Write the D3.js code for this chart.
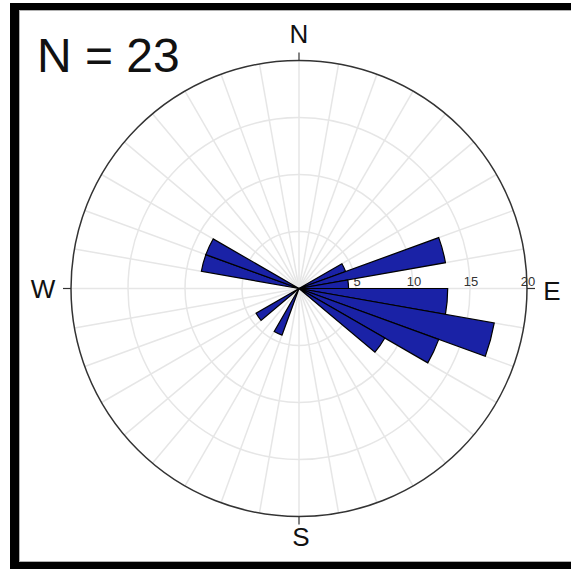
<!DOCTYPE html>
<html>
<head>
<meta charset="utf-8">
<script src="https://cdn.jsdelivr.net/npm/d3@7"></script>
<style>
  html, body { margin: 0; padding: 0; background: #fff; }
  svg { display: block; }
  text { font-family: "Liberation Sans", Arial, sans-serif; }
</style>
</head>
<body>
<svg id="chart" width="571" height="569"></svg>
<script>
// ---- data ----
const totalN = 23;
const binStarts = [60, 70, 80, 90, 100, 110, 120, 200, 230, 280, 290]; // degrees, compass
const binCounts = [1, 3, 1, 3, 4, 3, 2, 1, 1, 2, 2];
const binWidth = 10;
const ringTicks = [5, 10, 15, 20];
const directions = ["N", "E", "S", "W"];
const directionAngles = [0, 90, 180, 270];

// ---- layout ----
const svg = d3.select("#chart");
const cx = 299, cy = 288.5, R = 228;
const rScale = d3.scaleLinear().domain([0, 20]).range([0, R]);
const toRad = d => d * Math.PI / 180;

// frame
svg.append("rect").attr("x", 10).attr("y", 3).attr("width", 561).attr("height", 7).attr("fill", "#000");
svg.append("rect").attr("x", 10).attr("y", 3).attr("width", 9).attr("height", 566).attr("fill", "#000");
svg.append("rect").attr("x", 10).attr("y", 562).attr("width", 561).attr("height", 7).attr("fill", "#000");
svg.append("line").attr("x1", 19.5).attr("x2", 19.5).attr("y1", 10).attr("y2", 562).attr("stroke", "#b0b0b0").attr("stroke-width", 1);
svg.append("line").attr("x1", 19).attr("x2", 571).attr("y1", 10.5).attr("y2", 10.5).attr("stroke", "#b0b0b0").attr("stroke-width", 1);
svg.append("line").attr("x1", 19).attr("x2", 571).attr("y1", 561.5).attr("y2", 561.5).attr("stroke", "#b0b0b0").attr("stroke-width", 1);

const g = svg.append("g").attr("transform", `translate(${cx},${cy})`);

// grid spokes every 10 degrees
const spokes = d3.range(0, 360, 10);
g.selectAll("line.spoke").data(spokes).join("line")
  .attr("class", "spoke")
  .attr("x1", 0).attr("y1", 0)
  .attr("x2", d => R * Math.sin(toRad(d)))
  .attr("y2", d => -R * Math.cos(toRad(d)))
  .attr("stroke", "#e6e6e6").attr("stroke-width", 1.5);

// grid rings
g.selectAll("circle.ring").data(ringTicks.slice(0, -1)).join("circle")
  .attr("class", "ring")
  .attr("r", d => rScale(d))
  .attr("fill", "none").attr("stroke", "#e6e6e6").attr("stroke-width", 1.5);

// ring labels along east axis
g.selectAll("text.rlabel").data(ringTicks).join("text")
  .attr("class", "rlabel")
  .attr("x", d => rScale(d) + 1)
  .attr("y", -3)
  .attr("text-anchor", "middle")
  .attr("font-size", 13)
  .attr("fill", "#333")
  .text(d => d);

// bars
const arc = d3.arc();
g.selectAll("path.bar").data(binStarts.map((s, i) => ({ s, v: binCounts[i] / totalN * 100 })))
  .join("path")
  .attr("class", "bar")
  .attr("d", d => arc({
    innerRadius: 0,
    outerRadius: rScale(d.v),
    startAngle: toRad(d.s),
    endAngle: toRad(d.s + binWidth)
  }))
  .attr("fill", "#1a22a6")
  .attr("stroke", "#000")
  .attr("stroke-width", 1.2)
  .attr("stroke-linejoin", "miter");

// outer circle
g.append("circle").attr("r", R).attr("fill", "none").attr("stroke", "#333").attr("stroke-width", 1.5);

// direction ticks
g.selectAll("line.dtick").data(directionAngles).join("line")
  .attr("class", "dtick")
  .attr("x1", d => R * Math.sin(toRad(d)))
  .attr("y1", d => -R * Math.cos(toRad(d)))
  .attr("x2", d => (R + 8) * Math.sin(toRad(d)))
  .attr("y2", d => -(R + 8) * Math.cos(toRad(d)))
  .attr("stroke", "#333").attr("stroke-width", 1.2);

// direction labels
const labelR = [R + 27, R + 253 - R + 0, R + 247 - R, R + 256 - R];
g.selectAll("text.dlabel").data(directions).join("text")
  .attr("class", "dlabel")
  .attr("x", (d, i) => [0, 253, 2, -256][i])
  .attr("y", (d, i) => [-255, 2, 248, 0][i])
  .attr("text-anchor", "middle")
  .attr("dominant-baseline", "central")
  .attr("font-size", 26)
  .attr("fill", "#111")
  .text(d => d);

// N = 23
svg.append("text")
  .attr("x", 37).attr("y", 72)
  .attr("font-size", 48)
  .attr("fill", "#111")
  .text(`N = ${totalN}`);
</script>
</body>
</html>
